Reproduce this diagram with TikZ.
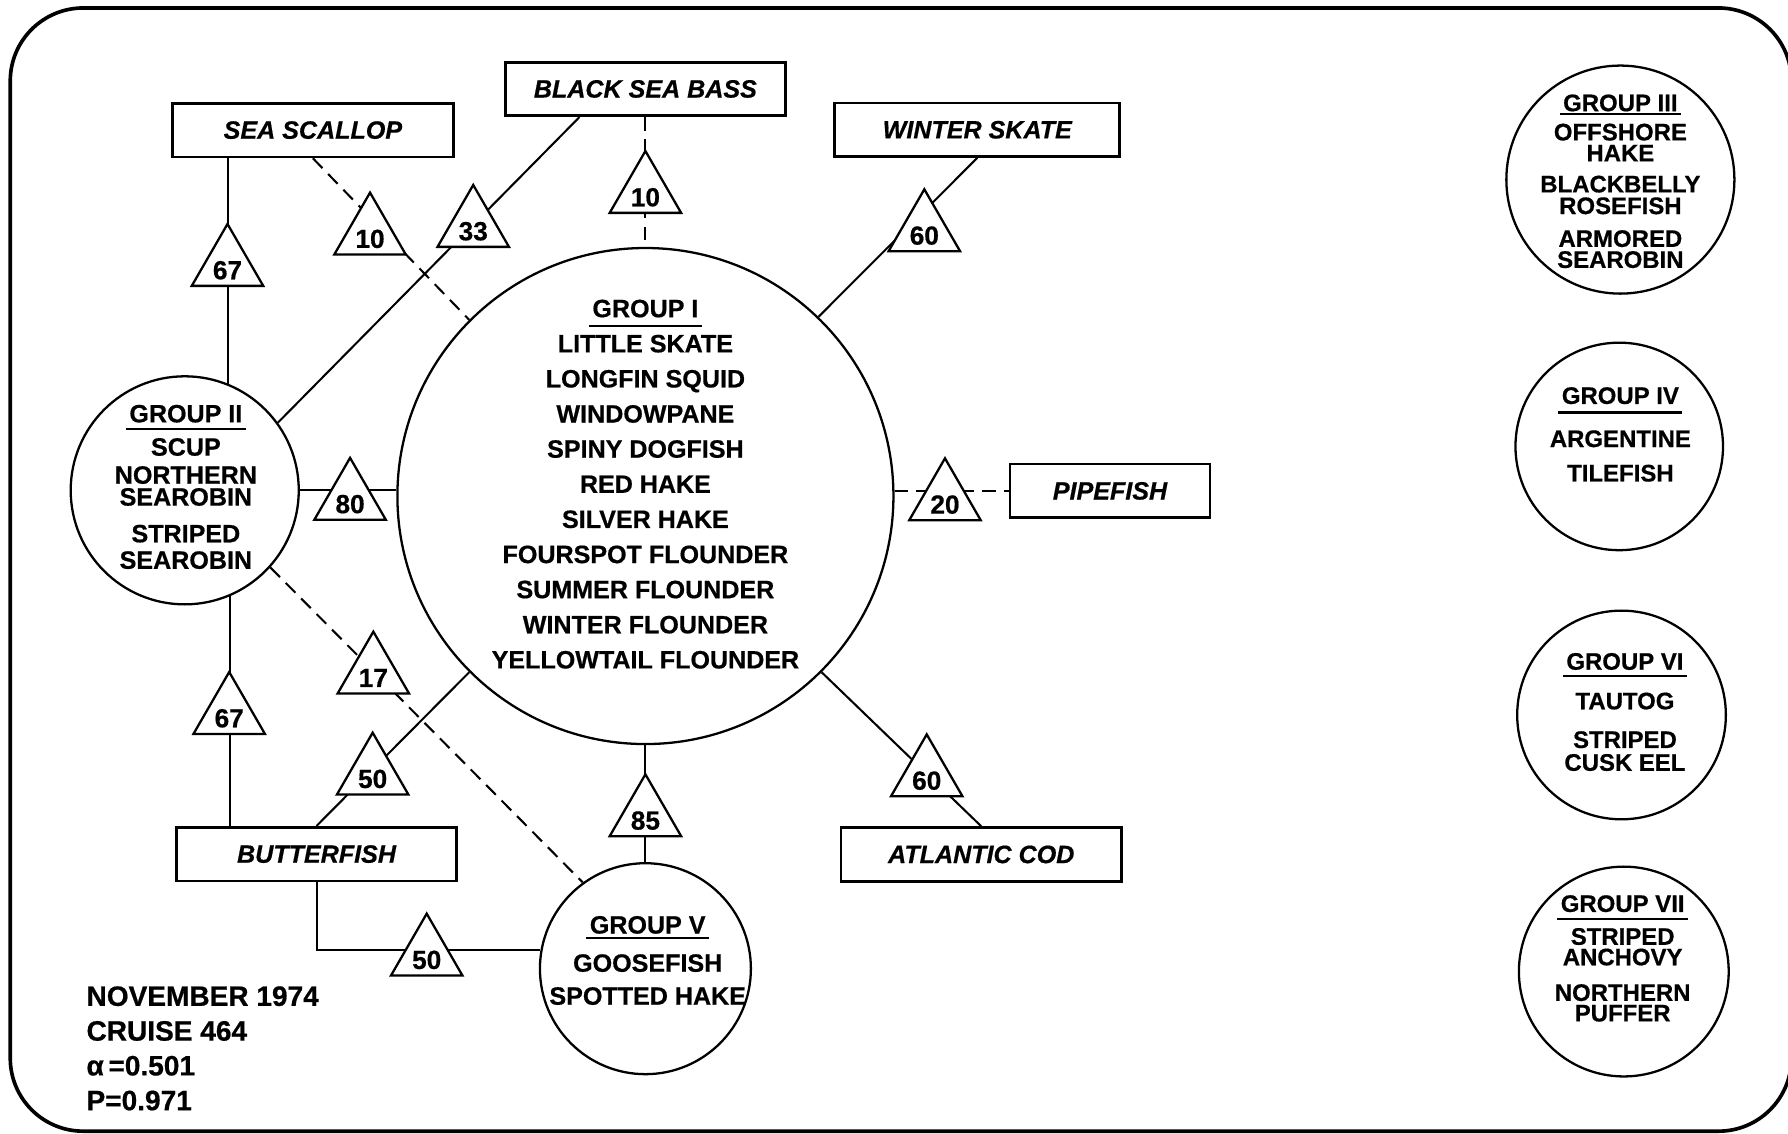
\documentclass[tikz,border=0pt]{standalone}
\usepackage{fontspec}
\setmainfont{Liberation Sans}[BoldFeatures={FakeBold=0.6},BoldItalicFeatures={FakeBold=0.6}]
\usepackage{tikz}
\usetikzlibrary{calc,shapes.geometric}
\newsavebox{\headbox}
\newcommand{\grouphead}[2][3.5pt]{\sbox{\headbox}{#2}\makebox[0pt][l]{\hspace{-1.5pt}\raisebox{-#1}[0pt][0pt]{\rule{\dimexpr\wd\headbox+3pt\relax}{0.9pt}}}\usebox{\headbox}}
\newcommand{\wnum}[1]{\raisebox{-2.2pt}[\height][\depth]{#1}}
\tikzset{%
	groupcircle/.style = {draw, circle, line width=1pt, inner sep=0pt},
	members/.style     = {align=center, inner sep=0pt},
	species/.style     = {draw, rectangle, line width=1.2pt, minimum width=123pt, minimum height=23.5pt, font=\fontsize{11}{13}\selectfont\bfseries\itshape},
	weight/.style      = {draw, fill=white, regular polygon, regular polygon sides=3, minimum size=31.2pt, inner sep=0pt, line width=1pt, font=\fontsize{11.5}{12}\selectfont\bfseries},
	link/.style        = {line width=0.9pt},
	dashlink/.style    = {line width=0.9pt, dash pattern=on 6pt off 3.6pt},
}

\begin{document}
\begin{tikzpicture}[x=0.5pt,y=-0.5pt]
	\useasboundingbox (0,0) rectangle (1568,994);
	\draw[line width=1.6pt, rounded corners=32pt] (9,7) rectangle (1571,992);

	\node[groupcircle, minimum size=217.5pt] (g1) at (566,435) {};
	\node[members, font=\fontsize{11}{15.4}\selectfont\bfseries] (g1t) at (566,424.6) {\grouphead[4.2pt]{GROUP I}\\LITTLE SKATE\\LONGFIN SQUID\\WINDOWPANE\\SPINY DOGFISH\\RED HAKE\\SILVER HAKE\\FOURSPOT FLOUNDER\\SUMMER FLOUNDER\\WINTER FLOUNDER\\YELLOWTAIL FLOUNDER};

	\node[groupcircle, minimum size=100pt] (g2) at (162,430) {};
	\node[members, font=\fontsize{11}{9.6}\selectfont\bfseries] (g2t) at (163,427) {\grouphead{GROUP II}\\[5pt]SCUP\\[2.7pt]NORTHERN\\SEAROBIN\\[6.5pt]STRIPED\\[2pt]SEAROBIN};

	\node[groupcircle, minimum size=100pt] (g3) at (1421,157.5) {};
	\node[members, font=\fontsize{10.5}{9.2}\selectfont\bfseries] (g3t) at (1421,159) {\grouphead[1.8pt]{GROUP III}\\[3.6pt]OFFSHORE\\HAKE\\[4.4pt]BLACKBELLY\\[0.3pt]ROSEFISH\\[5.2pt]ARMORED\\SEAROBIN};

	\node[groupcircle, minimum size=91pt] (g4) at (1420,391.5) {};
	\node[members, font=\fontsize{10.5}{15.1}\selectfont\bfseries] (g4t) at (1421,381) {\grouphead[4.2pt]{GROUP IV}\\[3.8pt]ARGENTINE\\TILEFISH};

	\node[groupcircle, minimum size=92.5pt] (g5) at (566,849.5) {};
	\node[members, font=\fontsize{11}{14.45}\selectfont\bfseries] (g5t) at (568,842.3) {\grouphead[2.6pt]{GROUP V}\\[2.3pt]GOOSEFISH\\SPOTTED HAKE};

	\node[groupcircle, minimum size=91.5pt] (g6) at (1422,627) {};
	\node[members, font=\fontsize{10.5}{10}\selectfont\bfseries] (g6t) at (1425,624.4) {\grouphead[3.2pt]{GROUP VI}\\[7.35pt]TAUTOG\\[6.95pt]STRIPED\\CUSK EEL};

	\node[groupcircle, minimum size=92pt] (g7) at (1424,852) {};
	\node[members, font=\fontsize{10.5}{9}\selectfont\bfseries] (g7t) at (1423,840.5) {\grouphead[3.7pt]{GROUP VII}\\[5.4pt]STRIPED\\ANCHOVY\\[6.6pt]NORTHERN\\PUFFER};

	\node[species] (ss) at (274.4,114.1) {SEA SCALLOP};
	\node[species] (bsb) at (566,78) {BLACK SEA BASS};
	\node[species, minimum width=125pt] (ws) at (857,113.8) {WINTER SKATE};
	\node[species, minimum width=87.7pt] (pf) at (973.4,430.5) {PIPEFISH};
	\node[species] (bf) at (277.6,749) {BUTTERFISH};
	\node[species] (ac) at (860.5,749.3) {ATLANTIC COD};

	\draw[link] (ss.south -| g2.68) -- (g2.68);
	\draw[dashlink] (ss.south) -- (g1.135);
	\draw[link] ($(bsb.south west)!0.267!(bsb.south east)$) -- (g2.36);
	\draw[dashlink] (bsb.south) -- (g1.north);
	\draw[link] (ws.south) -- (g1.46);
	\draw[link] (g2.east) -- (g2.east -| g1.west);
	\draw[dashlink] (pf.west -| g1.east) -- (pf.west);
	\draw[dashlink] (g2.318) -- (g5.126);
	\draw[link] (g2.293) -- (g2.293 |- bf.north);
	\draw[link] (g1.225) -- (bf.north);
	\draw[link] (g1.south) -- (g5.north);
	\draw[link] (g1.315) -- (ac.north);
	\draw[link] (bf.south) |- (g5.170);

	\node[weight] (w67a) at (199.5,232.6) {\wnum{67}};
	\node[weight] (w10a) at (324.5,205.1) {\wnum{10}};
	\node[weight] (w33) at (415,198.4) {\wnum{33}};
	\node[weight] (w10b) at (566,168.6) {\wnum{10}};
	\node[weight] (w60a) at (810.6,202.2) {\wnum{60}};
	\node[weight] (w80) at (307,437.7) {\wnum{80}};
	\node[weight] (w20) at (828.7,438.1) {\wnum{20}};
	\node[weight] (w17) at (327.4,590.1) {\wnum{17}};
	\node[weight] (w67b) at (201,625.5) {\wnum{67}};
	\node[weight] (w50a) at (326.8,678.7) {\wnum{50}};
	\node[weight] (w85) at (566,715.2) {\wnum{85}};
	\node[weight] (w60b) at (812.7,680.2) {\wnum{60}};
	\node[weight] (w50b) at (374.2,837.4) {\wnum{50}};

	\node[members, align=left, anchor=north west, font=\fontsize{12.3}{15.25}\selectfont\bfseries] (note) at (75.5,864.5) {NOVEMBER 1974\\CRUISE 464\\α\,=0.501\\P=0.971};
\end{tikzpicture}
\end{document}
